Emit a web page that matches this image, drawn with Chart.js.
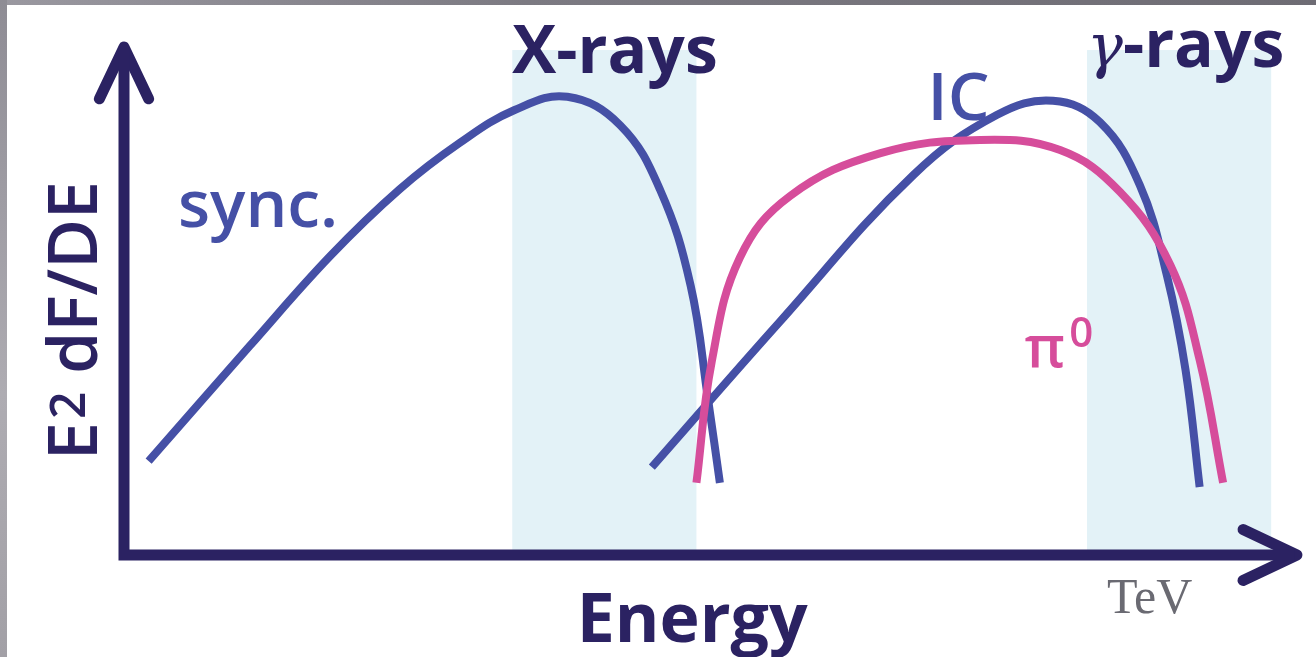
<!DOCTYPE html>
<html>
<head>
<meta charset="utf-8">
<script src="https://cdn.jsdelivr.net/npm/chart.js"></script>
<style>
  html, body { margin: 0; padding: 0; background: #fff; overflow: hidden; }
  #wrap { position: relative; width: 1316px; height: 657px; }
  #frameTop { position: absolute; left: 0; top: 0; width: 1316px; height: 5px; background: linear-gradient(90deg, #9a98a0, #7c7a82 40%, #6e6c74); }
  #frameLeft { position: absolute; left: 0; top: 0; width: 7px; height: 657px; background: linear-gradient(180deg, #8e8c94, #aeacb2 60%, #a2a0a6); }
</style>
</head>
<body>
<div id="wrap">
  <canvas id="sed" width="1316" height="657"></canvas>
  <div id="frameTop"></div>
  <div id="frameLeft"></div>
</div>
<script>
// schematic SED, x = log energy (arbitrary 0..10), y = E^2 dF/dE (arbitrary 0..10)
var syncX = [0.21, 1.07, 1.76, 2.35, 2.86, 3.33, 3.78, 4.23, 4.57, 4.83, 4.98, 5.08];
var syncY = [1.85, 4.11, 5.89, 7.20, 8.11, 8.76, 9.02, 8.46, 7.19, 5.31, 3.05, 1.42];

var icX = [4.50, 5.59, 6.73, 7.44, 7.92, 8.32, 8.66, 8.89, 9.05, 9.17];
var icY = [1.73, 4.59, 7.48, 8.66, 8.94, 8.52, 7.28, 5.51, 3.64, 1.34];

var pionX = [4.88, 5.01, 5.25, 5.68, 6.45, 7.30, 7.98, 8.49, 8.92, 9.17, 9.37];
var pionY = [1.42, 3.80, 5.85, 7.07, 7.91, 8.17, 7.97, 7.15, 5.71, 3.84, 1.42];

var bandNames = ['X-rays', 'γ-rays'];
var bandLo = [3.31, 8.21];
var bandHi = [4.88, 9.78];
var bandTop = 9.94;

var xTitle = 'Energy';
var yTitle = 'E2 dF/DE';
var unitLabel = 'TeV';

var navy = '#2b2262';
var blue = '#4550a6';
var pink = '#d64d9b';

function pts(xs, ys) {
  return xs.map(function(x, i) { return {x: x, y: ys[i]}; });
}

function curve(xs, ys, color) {
  return {
    data: pts(xs, ys), borderColor: color, borderWidth: 8, pointRadius: 0,
    tension: 0.4, borderCapStyle: 'butt', clip: false
  };
}

function axisLine(xs, ys, cap, join) {
  return {
    data: pts(xs, ys), borderColor: navy, borderWidth: 11, pointRadius: 0,
    tension: 0, borderCapStyle: cap, borderJoinStyle: join, clip: false
  };
}

// shaded energy bands behind the curves
var bandPlugin = {
  id: 'bands',
  beforeDatasetsDraw: function(chart) {
    var c = chart.ctx, xs = chart.scales.x, ys = chart.scales.y;
    c.save();
    c.fillStyle = '#e3f2f7';
    for (var i = 0; i < bandNames.length; i++) {
      var l = xs.getPixelForValue(bandLo[i]), r = xs.getPixelForValue(bandHi[i]);
      var t = ys.getPixelForValue(bandTop), b = ys.getPixelForValue(0);
      c.fillRect(l, t, r - l, b - t);
    }
    c.restore();
  }
};

// text labels, placed in data units
var labelPlugin = {
  id: 'labels',
  afterDatasetsDraw: function(chart) {
    var c = chart.ctx, xs = chart.scales.x, ys = chart.scales.y;
    function px(v) { return xs.getPixelForValue(v); }
    function py(v) { return ys.getPixelForValue(v); }
    function txt(s, x, y, font, color) {
      c.font = font; c.fillStyle = color;
      c.fillText(s, x, y);
      return c.measureText(s).width;
    }
    c.save();
    c.textBaseline = 'alphabetic';
    c.textAlign = 'left';
    var sans = '"Open Sans", "DejaVu Sans", sans-serif';

    // band titles
    txt(bandNames[0], px(3.31), py(9.49), 'bold 66px ' + sans, navy);
    var gx = px(8.21), gy = py(9.61);
    var gw = txt(bandNames[1].charAt(0), gx, gy, 'italic 60px "DejaVu Serif", serif', navy);
    txt(bandNames[1].slice(1), gx + gw, gy, 'bold 66px ' + sans, navy);

    // component labels
    txt('sync.', px(0.46), py(6.46), '600 66px ' + sans, blue);
    txt('IC', px(6.85), py(8.56), '600 66px ' + sans, blue);
    var pw = txt('π', px(7.68), py(3.70), '600 58px ' + sans, pink);
    txt('0', px(7.68) + pw + 4, py(4.09), '600 42px ' + sans, pink);

    // axis titles
    txt(xTitle, px(3.86), py(-1.71), 'bold 68px ' + sans, navy);
    txt(unitLabel, px(8.38), py(-1.14), '50px "Liberation Serif", "Times New Roman", serif', '#6a6a72');

    c.translate(px(-0.23), py(1.87));
    c.rotate(-Math.PI / 2);
    var w1 = txt(yTitle.charAt(0), 0, 0, '600 68px ' + sans, navy);
    var w2 = txt(yTitle.charAt(1), w1 + 3, -12, '600 48px ' + sans, navy);
    txt(yTitle.slice(2), w1 + w2 + 3, 0, '600 68px ' + sans, navy);
    c.restore();
  }
};

new Chart(document.getElementById('sed').getContext('2d'), {
  type: 'line',
  data: {
    datasets: [
      curve(pionX, pionY, pink),
      curve(icX, icY, blue),
      curve(syncX, syncY, blue),
      axisLine([0, 0, 9.98], [10, 0, 0], 'butt', 'miter'),
      axisLine([-0.21, 0, 0.21], [8.98, 10, 8.98], 'round', 'round'),
      axisLine([9.54, 10, 9.54], [0.5, 0, -0.5], 'round', 'round')
    ]
  },
  options: {
    responsive: false,
    animation: false,
    events: [],
    layout: { padding: { left: 124, top: 47, right: 19, bottom: 102 } },
    scales: {
      x: { type: 'linear', min: 0, max: 10, display: false },
      y: { type: 'linear', min: 0, max: 10, display: false }
    },
    plugins: { legend: { display: false }, tooltip: { enabled: false } }
  },
  plugins: [bandPlugin, labelPlugin]
});
</script>
</body>
</html>
